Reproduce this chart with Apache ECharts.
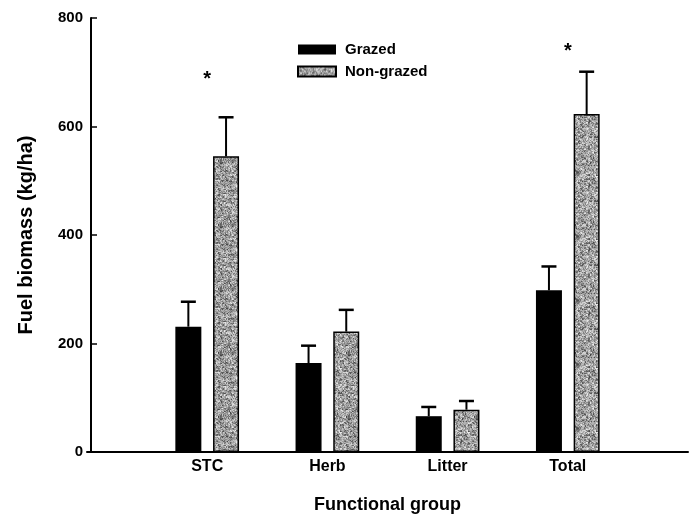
<!DOCTYPE html>
<html>
<head>
<meta charset="utf-8">
<script src="https://cdn.jsdelivr.net/npm/echarts@6/dist/echarts.min.js"></script>
<style>
  html, body { margin: 0; padding: 0; background: #fff; }
  #chart { width: 699px; height: 523px; }
</style>
</head>
<body>
<div id="chart"></div>
<script>
// Fuel biomass by functional group, grazed vs non-grazed plots
const categories = ['STC', 'Herb', 'Litter', 'Total'];
const grazed = [231, 164, 66, 298];
const grazedSE = [46, 32, 17, 44];
const nonGrazed = [545, 222, 78, 623];
const nonGrazedSE = [72, 40, 16, 78];
// significance marks (* drawn at these heights), null = not significant
const sigMarks = [695, null, null, 747];
const yTicks = [0, 200, 400, 600, 800];

const FONT = "'Liberation Sans', Arial, sans-serif";
const BAR_W = 26;
const BAR_GAP = 11.7;
const HALF = (BAR_W + BAR_GAP) / 2;

// stippled grey fill for the non-grazed bars
function grainTexture() {
  const size = 64;
  const c = document.createElement('canvas');
  c.width = size; c.height = size;
  const ctx = c.getContext('2d');
  const img = ctx.createImageData(size, size);
  const hash = (x, y) => {
    let h = (x * 374761393 + y * 668265263) | 0;
    h = Math.imul(h ^ (h >>> 13), 1274126177);
    return ((h ^ (h >>> 16)) >>> 0) % 1000 / 1000;
  };
  for (let y = 0; y < size; y++) {
    for (let x = 0; x < size; x++) {
      // fine speckle mixed with coarser 2x2 clumps
      const fine = hash(x, y);
      const coarse = hash((x >> 1) + 101, (y >> 1) + 57);
      const r = 0.55 * fine + 0.45 * coarse;
      const v = r < 0.45 ? 60 + Math.round(r * 200) : 150 + Math.round((r - 0.45) * 160);
      const i = (y * size + x) * 4;
      img.data[i] = v; img.data[i + 1] = v; img.data[i + 2] = v; img.data[i + 3] = 255;
    }
  }
  ctx.putImageData(img, 0, 0);
  return c;
}
const grain = { image: grainTexture(), repeat: 'repeat' };

// category slots padded with an empty slot at each end
const axisCats = [''].concat(categories, ['']);
const pad = arr => [null].concat(arr, [null]);

function errData(vals, se) {
  return vals.map((v, i) => [i + 1, v, v + se[i]]);
}

function errRenderer(offset) {
  return function (params, api) {
    const x = api.value(0);
    const base = api.coord([x, api.value(1)]);
    const top = api.coord([x, api.value(2)]);
    const cx = base[0] + offset;
    return {
      type: 'group',
      children: [
        { type: 'line', shape: { x1: cx, y1: base[1], x2: cx, y2: top[1] },
          style: { stroke: '#000', lineWidth: 2 } },
        { type: 'line', shape: { x1: cx - 7.5, y1: top[1], x2: cx + 7.5, y2: top[1] },
          style: { stroke: '#000', lineWidth: 2.5 } }
      ]
    };
  };
}

const chart = echarts.init(document.getElementById('chart'), null, { renderer: 'canvas' });
chart.setOption({
  animation: false,
  backgroundColor: '#fff',
  textStyle: { fontFamily: FONT, color: '#000' },
  grid: { left: 87, right: 11, top: 18, bottom: 71, containLabel: false },
  legend: {
    data: ['Grazed', 'Non-grazed'],
    orient: 'vertical',
    left: 297,
    top: 42,
    padding: 0,
    icon: 'rect',
    itemWidth: 38,
    itemHeight: 10,
    itemGap: 7,
    textStyle: { fontFamily: FONT, fontSize: 15, fontWeight: 'bold', color: '#000', padding: [0, 0, 0, 4] }
  },
  xAxis: {
    type: 'category',
    data: axisCats,
    boundaryGap: false,
    axisLine: { lineStyle: { color: '#000', width: 2 } },
    axisTick: { show: false },
    axisLabel: { fontFamily: FONT, fontSize: 16, fontWeight: 'bold', color: '#000', margin: 7 },
    splitLine: { show: false },
    name: 'Functional group',
    nameLocation: 'middle',
    nameGap: 44,
    nameTextStyle: { fontFamily: FONT, fontSize: 18, fontWeight: 'bold', color: '#000' }
  },
  yAxis: {
    type: 'value',
    min: yTicks[0],
    max: yTicks[yTicks.length - 1],
    interval: yTicks[1] - yTicks[0],
    offset: -4,
    axisLine: { show: true, lineStyle: { color: '#000', width: 2 } },
    axisTick: { show: true, inside: true, length: 6, lineStyle: { color: '#000', width: 1.5 } },
    axisLabel: { fontFamily: FONT, fontSize: 15, fontWeight: 'bold', color: '#000', margin: 8 },
    splitLine: { show: false },
    name: 'Fuel biomass (kg/ha)',
    nameLocation: 'middle',
    nameGap: 55,
    nameTextStyle: { fontFamily: FONT, fontSize: 20, fontWeight: 'bold', color: '#000' }
  },
  series: [
    {
      name: 'Grazed',
      type: 'bar',
      data: pad(grazed),
      barWidth: BAR_W,
      barGap: (BAR_GAP / BAR_W * 100).toFixed(1) + '%',
      itemStyle: { color: '#000' },
      z: 2
    },
    {
      name: 'Non-grazed',
      type: 'bar',
      data: pad(nonGrazed),
      barWidth: BAR_W,
      itemStyle: { color: grain, borderColor: '#000', borderWidth: 1.5 },
      z: 2
    },
    {
      name: 'Grazed SE',
      type: 'custom',
      data: errData(grazed, grazedSE),
      renderItem: errRenderer(-HALF),
      z: 1
    },
    {
      name: 'Non-grazed SE',
      type: 'custom',
      data: errData(nonGrazed, nonGrazedSE),
      renderItem: errRenderer(HALF),
      z: 1
    },
    {
      name: 'Significance',
      type: 'custom',
      data: sigMarks.map((v, i) => v == null ? null : [i + 1, v]).filter(d => d),
      renderItem: function (params, api) {
        const p = api.coord([api.value(0), api.value(1)]);
        return {
          type: 'text',
          style: {
            text: '*', x: p[0], y: p[1] + 5,
            textAlign: 'center', textVerticalAlign: 'middle',
            font: 'bold 20px ' + FONT, fill: '#000'
          }
        };
      },
      z: 3
    }
  ]
});
</script>
</body>
</html>
